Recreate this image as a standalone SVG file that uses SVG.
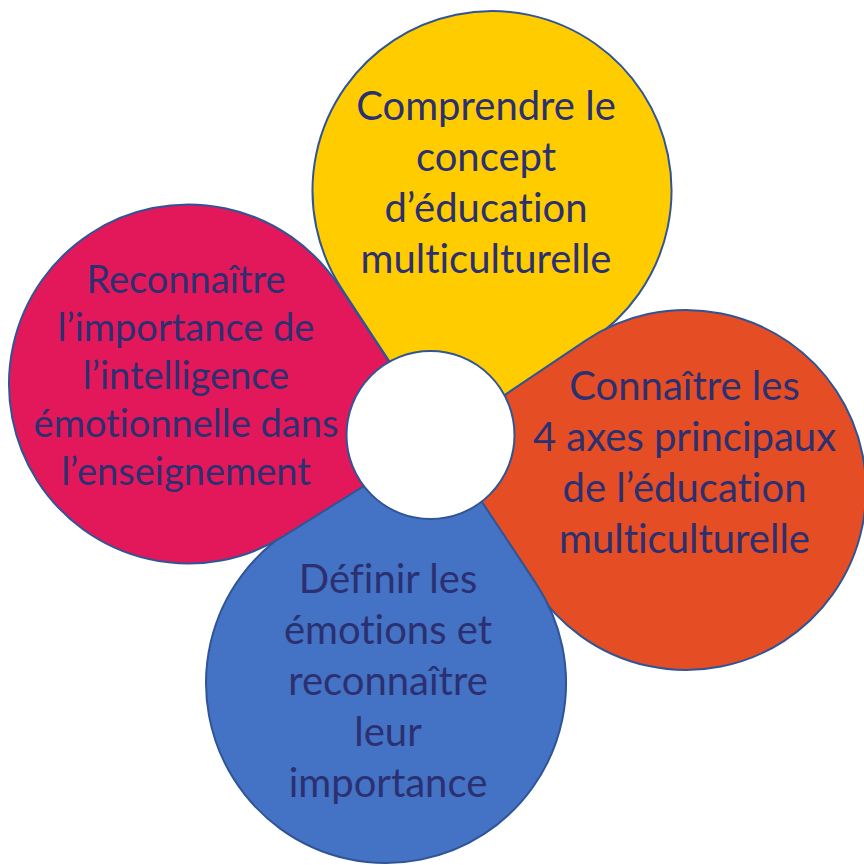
<svg xmlns="http://www.w3.org/2000/svg" width="864" height="865" viewBox="0 0 864 865">
  <style>
    .petal { stroke: #2F5597; stroke-width: 2; stroke-linejoin: round; }
    .lbl { font-family: Lato, "Noto Sans", "Liberation Sans", sans-serif; fill: #2B3070; text-anchor: middle; font-size: 40px; font-variant-ligatures: none; font-feature-settings: "liga" 0, "dlig" 0; }
    .lbl.small { font-size: 38px; }
  </style>
  <rect x="0" y="0" width="864" height="865" fill="#FFFFFF"/>
  <g id="petal-yellow">
    <path class="petal" fill="#FFCC00" d="M440,438.5 L341.9,289 A179.5,179.5 0 1 1 589.9,341 Z"/>
    <text class="lbl" x="486" y="120">Comprendre le</text>
    <text class="lbl" x="486" y="171">concept</text>
    <text class="lbl" x="486" y="222">d’éducation</text>
    <text class="lbl" x="486" y="273">multiculturelle</text>
  </g>
  <g id="petal-orange">
    <path class="petal" fill="#E54D24" d="M440,438.5 L585.6,340.6 A180,180 0 1 1 534.1,586.5 Z"/>
    <text class="lbl" x="684.5" y="400">Connaître les</text>
    <text class="lbl" x="684.5" y="451">4 axes principaux</text>
    <text class="lbl" x="684.5" y="502">de l’éducation</text>
    <text class="lbl" x="684.5" y="553">multiculturelle</text>
  </g>
  <g id="petal-blue">
    <path class="petal" fill="#4472C4" d="M440,438.5 L536.1,583.6 A180,180 0 1 1 291.7,529.7 Z"/>
    <text class="lbl" x="388" y="593">Définir les</text>
    <text class="lbl" x="388" y="644">émotions et</text>
    <text class="lbl" x="388" y="695">reconnaître</text>
    <text class="lbl" x="388" y="746">leur</text>
    <text class="lbl" x="388" y="797">importance</text>
  </g>
  <g id="petal-red">
    <path class="petal" fill="#E3185A" d="M440,438.5 L283.6,536.2 A179.5,179.5 0 1 1 338.1,284.8 Z"/>
    <text class="lbl small" x="186" y="293">Reconnaître</text>
    <text class="lbl small" x="186" y="341">l’importance de</text>
    <text class="lbl small" x="186" y="389">l’intelligence</text>
    <text class="lbl small" x="186" y="437">émotionnelle dans</text>
    <text class="lbl small" x="186" y="485">l’enseignement</text>
  </g>
  <g id="center">
    <circle cx="430.5" cy="435" r="84" fill="#FFFFFF" stroke="#2F5597" stroke-width="2"/>
  </g>
  <g id="connectors"></g>
</svg>
